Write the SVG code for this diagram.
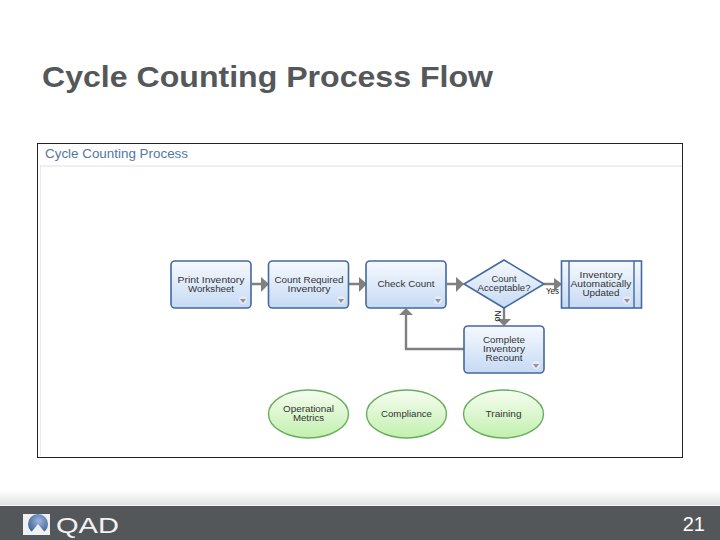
<svg xmlns="http://www.w3.org/2000/svg" width="720" height="540" viewBox="0 0 720 540">
<style>
text{font-family:"Liberation Sans",Arial,sans-serif}
.l{font-size:8.500px;fill:#333;text-anchor:middle}
.box{fill:url(#blue);stroke:#44689f;stroke-width:1.600}
.oval{fill:url(#green);stroke:#68ad5c;stroke-width:1.400}
.c{fill:none;stroke:#808080;stroke-width:2.400}
.tri{fill:#808080}
.m{fill:#8e93a8}
.s{fill:#e6eaf4}
</style>
<defs>
<linearGradient id="blue" x1="0" y1="0" x2="0" y2="1"><stop offset="0" stop-color="#f6f9fe"/><stop offset="1" stop-color="#c6daf4"/></linearGradient>
<linearGradient id="green" x1="0" y1="0" x2="0" y2="1"><stop offset="0" stop-color="#f6fdf0"/><stop offset="1" stop-color="#c2f0ae"/></linearGradient>
<linearGradient id="fade" x1="0" y1="0" x2="0" y2="1"><stop offset="0" stop-color="#ffffff"/><stop offset="1" stop-color="#e2e2e2"/></linearGradient>
<radialGradient id="ball" cx="0.55" cy="0.35" r="0.65"><stop offset="0" stop-color="#9db6dc"/><stop offset="1" stop-color="#3d5f96"/></radialGradient>
</defs>
<rect width="720" height="540" fill="#fff"/>
<text x="42" y="87" font-size="30" font-weight="700" fill="#55585a" textLength="451" lengthAdjust="spacingAndGlyphs">Cycle Counting Process Flow</text>
<rect x="37.500" y="143.500" width="645" height="314" fill="#fff" stroke="#222" stroke-width="1"/>
<line x1="40" y1="166" x2="682" y2="166" stroke="#e0e0e0" stroke-width="1"/>
<line x1="40.500" y1="166" x2="40.500" y2="456" stroke="#e8e8e8" stroke-width="1"/>
<text x="45" y="158" font-size="13" fill="#52779f" textLength="143" lengthAdjust="spacingAndGlyphs">Cycle Counting Process</text>
<g id="connectors">
<path class="c" d="M252 284H263M349 284H360M447 284H458M544 284H557M504 308V320M464 349H406V314"/>
<path class="tri" d="M261 277L269 284L261 292ZM359 277L367 284L359 292ZM456 277L464 284L456 292ZM554 278L562 284L554 291ZM497 319H511L504 326ZM399 315L406 308L413 315Z"/>
<text x="546" y="293.500" font-size="9" fill="#222" textLength="13" lengthAdjust="spacingAndGlyphs">Yes</text>
<text transform="translate(495 316) rotate(90)" font-size="9" fill="#222" text-anchor="middle" textLength="11" lengthAdjust="spacingAndGlyphs">No</text>
</g>
<g id="print"><rect class="box" x="171" y="261" width="80" height="47" rx="4"/><text class="l" x="211" y="283" textLength="67" lengthAdjust="spacingAndGlyphs">Print Inventory</text><text class="l" x="211" y="291.500" textLength="46" lengthAdjust="spacingAndGlyphs">Worksheet</text><circle class="s" cx="243" cy="300" r="4"/><path class="m" d="M240 299H246L243 303Z"/></g>
<g id="count"><rect class="box" x="268.500" y="261" width="80" height="47" rx="4"/><text class="l" x="309" y="283" textLength="69" lengthAdjust="spacingAndGlyphs">Count Required</text><text class="l" x="309" y="291.500" textLength="43" lengthAdjust="spacingAndGlyphs">Inventory</text><circle class="s" cx="341" cy="300" r="4"/><path class="m" d="M338 299H344L341 303Z"/></g>
<g id="check"><rect class="box" x="366" y="261" width="80" height="47" rx="4"/><text class="l" x="406" y="287" textLength="57" lengthAdjust="spacingAndGlyphs">Check Count</text><circle class="s" cx="438" cy="300" r="4"/><path class="m" d="M435 299H441L438 303Z"/></g>
<g id="decision"><path class="box" d="M504 260L544 284L504 308L464 284Z"/><text class="l" x="504" y="282" textLength="25" lengthAdjust="spacingAndGlyphs">Count</text><text class="l" x="504" y="291" textLength="53" lengthAdjust="spacingAndGlyphs">Acceptable?</text></g>
<g id="updated"><rect class="box" x="561.500" y="261" width="80" height="47"/><line x1="569" y1="261" x2="569" y2="308" stroke="#44689f" stroke-width="1.400"/><line x1="634" y1="261" x2="634" y2="308" stroke="#44689f" stroke-width="1.400"/><text class="l" x="601" y="278" textLength="43" lengthAdjust="spacingAndGlyphs">Inventory</text><text class="l" x="601" y="287" textLength="61" lengthAdjust="spacingAndGlyphs">Automatically</text><text class="l" x="601" y="296" textLength="37" lengthAdjust="spacingAndGlyphs">Updated</text><circle class="s" cx="627" cy="300" r="4"/><path class="m" d="M624 299H630L627 303Z"/></g>
<g id="recount"><rect class="box" x="464" y="326" width="80" height="47" rx="4"/><text class="l" x="504" y="343" textLength="42" lengthAdjust="spacingAndGlyphs">Complete</text><text class="l" x="504" y="352" textLength="42" lengthAdjust="spacingAndGlyphs">Inventory</text><text class="l" x="504" y="361" textLength="37" lengthAdjust="spacingAndGlyphs">Recount</text><circle class="s" cx="536" cy="365" r="4"/><path class="m" d="M533 364H539L536 368Z"/></g>
<g id="metrics"><ellipse class="oval" cx="308.500" cy="414" rx="40" ry="24"/><text class="l" x="308.500" y="412" textLength="51" lengthAdjust="spacingAndGlyphs">Operational</text><text class="l" x="308.500" y="420.500" textLength="31" lengthAdjust="spacingAndGlyphs">Metrics</text></g>
<g id="compliance"><ellipse class="oval" cx="406.500" cy="414" rx="40" ry="24"/><text class="l" x="406.500" y="417" textLength="51" lengthAdjust="spacingAndGlyphs">Compliance</text></g>
<g id="training"><ellipse class="oval" cx="503.500" cy="414" rx="40" ry="24"/><text class="l" x="503.500" y="417" textLength="36" lengthAdjust="spacingAndGlyphs">Training</text></g>
<rect x="0" y="490" width="720" height="15" fill="url(#fade)"/>
<rect x="0" y="505" width="720" height="1" fill="#f5f5f5"/>
<rect x="0" y="506" width="720" height="34" fill="#54575a"/>
<g id="logo"><rect x="23" y="514" width="27" height="21" fill="#eef0f4"/><circle cx="38" cy="524" r="10" fill="url(#ball)"/><path d="M29 535L38 524L47 535Z" fill="#eef0f4"/><text x="56" y="533" font-size="22" fill="#f2f2f2" textLength="63" lengthAdjust="spacingAndGlyphs">QAD</text></g>
<text x="705" y="531" font-size="20" fill="#fff" text-anchor="end">21</text>
</svg>
